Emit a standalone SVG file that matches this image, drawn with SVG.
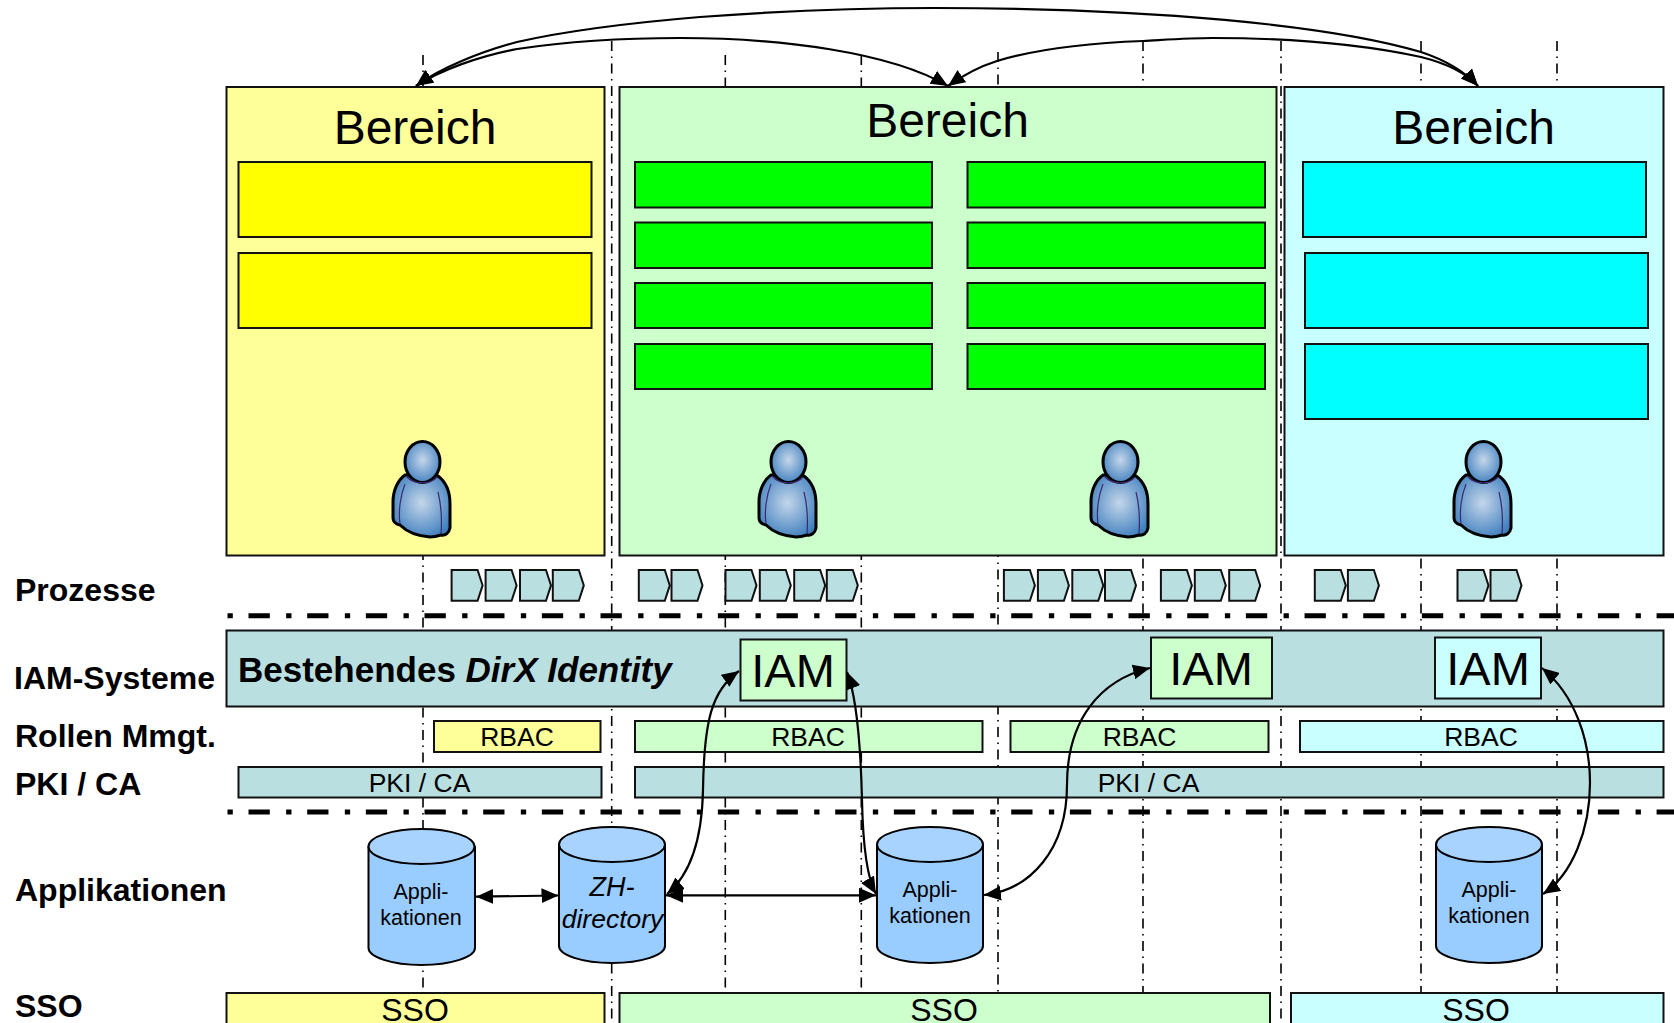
<svg xmlns="http://www.w3.org/2000/svg" width="1674" height="1023" viewBox="0 0 1674 1023">
<style>
text{font-family:"Liberation Sans",Arial,sans-serif;fill:#000}
.m{text-anchor:middle}
.lbl{font-size:32px;font-weight:bold}
.ber{font-size:48px}
.iam{font-size:47px}
.r{font-size:26.500px}
.sso{font-size:32px}
.app{font-size:21.500px}
.b{stroke:#111;stroke-width:2}
.y{fill:#FFFF99}.g{fill:#CCFFCC}.c{fill:#C9FFFF}.t{fill:#B9DFE1}
.yy{fill:#FFFF00}.gg{fill:#00FF00}.cc{fill:#00FFFF}
.v{fill:none;stroke:#000;stroke-width:1.6;stroke-dasharray:10 5.5 1.5 5.5}
.h{fill:none;stroke:#000;stroke-width:5;stroke-dasharray:5.300 15.700 21.300 16.370}
.cn{fill:none;stroke:#000;stroke-width:2.200;marker-start:url(#ah);marker-end:url(#ah)}
.lit{fill:#A9D3FF;stroke:#000;stroke-width:2}
.cyl{fill:#99CCFF;stroke:#000;stroke-width:2}
.sk{fill:none;stroke:#3A2A70;stroke-width:1.2}
</style>
<defs>
<marker id="ah" markerUnits="userSpaceOnUse" markerWidth="17" markerHeight="15" refX="16" refY="7" orient="auto-start-reverse" viewBox="0 0 16 14"><path d="M0,0L16,7L0,14Z" fill="#000"/></marker>
<radialGradient id="pg" cx="0.5" cy="0.45" r="0.6"><stop offset="0" stop-color="#C4D6EA"/><stop offset="1" stop-color="#3F7FBE"/></radialGradient>
<g id="person">
<path d="M-17,13C-24,18-29,28-29,40L-29,56C-29,60-26,62-22,63C-15,70-5,74,8,75C12,75,16,74,19,73C23,74,27,71,28,66L28,42C28,30,24,20,16,14Z" fill="url(#pg)" stroke="#000" stroke-width="3"/>
<path class="sk" d="M-17,22C-21,32-24,48-22,62M16,30C19,42,20,58,19,72"/>
<ellipse cx="0.500" cy="0" rx="17.500" ry="20.500" fill="url(#pg)" stroke="#000" stroke-width="3"/>
<path class="sk" d="M-16,14C-8,23,8,23,15,15"/>
</g>
<path id="chev" d="M0,0H26L31,15.400L26,30.700H0Z" class="t" stroke="#111" stroke-width="2"/>
</defs>
<rect width="1674" height="1023" fill="#fff"/>
<g id="grid-lines">
<path class="v" d="M423,55V1023"/>
<path class="v" d="M611.700,41V1023"/>
<path class="v" d="M725.300,55V1023"/>
<path class="v" d="M861.300,55V1023"/>
<path class="v" d="M998,52V1023"/>
<path class="v" d="M1143,41V1023"/>
<path class="v" d="M1281,41V1023"/>
<path class="v" d="M1421,41V1023"/>
<path class="v" d="M1557,41V1023"/>
</g>
<g id="bereich-gelb">
<rect class="y b" x="226.500" y="87" width="378" height="468.500"/>
<text class="ber m" x="415" y="144">Bereich</text>
<rect class="yy b" x="238.500" y="162" width="353" height="75"/>
<rect class="yy b" x="238.500" y="253" width="353" height="75"/>
<use href="#person" x="422" y="462"/>
</g>
<g id="bereich-gruen">
<rect class="g b" x="619.500" y="87" width="657" height="468.500"/>
<text class="ber m" x="947.500" y="137">Bereich</text>
<rect class="gg b" x="635" y="162" width="297" height="45.500"/>
<rect class="gg b" x="635" y="222.500" width="297" height="45.500"/>
<rect class="gg b" x="635" y="283" width="297" height="45"/>
<rect class="gg b" x="635" y="344" width="297" height="45"/>
<rect class="gg b" x="967.500" y="162" width="297.500" height="45.500"/>
<rect class="gg b" x="967.500" y="222.500" width="297.500" height="45.500"/>
<rect class="gg b" x="967.500" y="283" width="297.500" height="45"/>
<rect class="gg b" x="967.500" y="344" width="297.500" height="45"/>
<use href="#person" x="788" y="462"/>
<use href="#person" x="1120" y="462"/>
</g>
<g id="bereich-cyan">
<rect class="c b" x="1284.500" y="87" width="379" height="468.500"/>
<text class="ber m" x="1473.500" y="144">Bereich</text>
<rect class="cc b" x="1303" y="162" width="343" height="75"/>
<rect class="cc b" x="1305" y="253" width="343" height="75"/>
<rect class="cc b" x="1305" y="344" width="343" height="75"/>
<use href="#person" x="1483" y="462"/>
</g>
<g id="prozesse">
<text class="lbl" x="15" y="601">Prozesse</text>
<use href="#chev" x="451.600" y="570"/><use href="#chev" x="485.600" y="570"/><use href="#chev" x="520" y="570"/><use href="#chev" x="552.800" y="570"/>
<use href="#chev" x="638.800" y="570"/><use href="#chev" x="671.500" y="570"/>
<use href="#chev" x="725.500" y="570"/><use href="#chev" x="759.800" y="570"/><use href="#chev" x="794.200" y="570"/><use href="#chev" x="826.800" y="570"/>
<use href="#chev" x="1003.900" y="570"/><use href="#chev" x="1037.900" y="570"/><use href="#chev" x="1072.300" y="570"/><use href="#chev" x="1105" y="570"/>
<use href="#chev" x="1160.900" y="570"/><use href="#chev" x="1194.800" y="570"/><use href="#chev" x="1229.200" y="570"/>
<use href="#chev" x="1314.800" y="570"/><use href="#chev" x="1347.900" y="570"/>
<use href="#chev" x="1457.500" y="570"/><use href="#chev" x="1490.500" y="570"/>
</g>
<g id="trennlinien">
<path class="h" d="M227.500,615.700H1674"/>
<path class="h" d="M227.500,812H1674"/>
</g>
<g id="iam-systeme">
<text class="lbl" x="14" y="689">IAM-Systeme</text>
<rect class="t b" x="226.500" y="630.500" width="1437" height="76"/>
<text x="238" y="682" font-size="35" font-weight="bold">Bestehendes <tspan font-style="italic">DirX Identity</tspan></text>
</g>
<g id="iam-1"><rect class="g b" x="740.500" y="639.500" width="106" height="61"/><text class="iam m" x="793" y="687">IAM</text></g>
<g id="iam-2"><rect class="g b" x="1151" y="637.500" width="121" height="61"/><text class="iam m" x="1211" y="685">IAM</text></g>
<g id="iam-3"><rect class="c b" x="1435" y="637.500" width="106" height="61"/><text class="iam m" x="1488" y="685">IAM</text></g>
<g id="rollen">
<text class="lbl" x="15" y="747">Rollen Mmgt.</text>
<rect class="y b" x="434" y="721" width="166.500" height="31"/><text class="r m" x="517" y="746">RBAC</text>
<rect class="g b" x="635" y="721" width="347.500" height="31"/><text class="r m" x="808" y="746">RBAC</text>
<rect class="g b" x="1010.500" y="721" width="258" height="31"/><text class="r m" x="1139.500" y="746">RBAC</text>
<rect class="c b" x="1300" y="721" width="363.500" height="31"/><text class="r m" x="1481" y="746">RBAC</text>
</g>
<g id="pki">
<text class="lbl" x="15" y="795">PKI / CA</text>
<rect class="t b" x="238.500" y="767" width="363" height="30.500"/><text class="r m" x="419.500" y="791.500">PKI / CA</text>
<rect class="t b" x="635" y="767" width="1028.500" height="30.500"/><text class="r m" x="1148.500" y="791.500">PKI / CA</text>
</g>
<text id="applikationen" class="lbl" x="15" y="901">Applikationen</text>
<g id="cyl-1">
<path class="cyl" d="M368.500,847V948C368.500,957 392,965 421.500,965S475,957 475,948V847Z"/>
<ellipse class="lit" cx="421.500" cy="846.500" rx="53" ry="17.500"/>
<text class="app m" x="421" y="899">Appli-</text><text class="app m" x="421" y="925">kationen</text>
</g>
<g id="cyl-2">
<path class="cyl" d="M559,845V946C559,955 582,963 612,963S665,955 665,946V845Z"/>
<ellipse class="lit" cx="612" cy="844.500" rx="53" ry="17.500"/>
<text class="m" x="612" y="896" font-size="27" font-style="italic">ZH-</text><text class="m" x="612.500" y="928" font-size="26.500" font-style="italic">directory</text>
</g>
<g id="cyl-3">
<path class="cyl" d="M877,845V946C877,955 900,963 930,963S983,955 983,946V845Z"/>
<ellipse class="lit" cx="930" cy="844.500" rx="53" ry="17.500"/>
<text class="app m" x="930" y="897">Appli-</text><text class="app m" x="930" y="923">kationen</text>
</g>
<g id="cyl-4">
<path class="cyl" d="M1436,845V946C1436,955 1459,963 1489,963S1542,955 1542,946V845Z"/>
<ellipse class="lit" cx="1489" cy="844.500" rx="53" ry="17.500"/>
<text class="app m" x="1489" y="897">Appli-</text><text class="app m" x="1489" y="923">kationen</text>
</g>
<g id="sso">
<text class="lbl" x="15" y="1017">SSO</text>
<rect class="y b" x="226.500" y="993" width="378" height="40"/><text class="sso m" x="415" y="1021">SSO</text>
<rect class="g b" x="619.500" y="993" width="650.500" height="40"/><text class="sso m" x="944" y="1021">SSO</text>
<rect class="c b" x="1291" y="993" width="372.500" height="40"/><text class="sso m" x="1476" y="1021">SSO</text>
</g>
<g id="connectors">
<path class="cn" d="M416,86C440,68 480,52 517,42C570,30 640,22 700,17C780,11 860,8 935,8C1150,8 1330,25 1421,52C1445,60 1465,72 1478,86"/>
<path class="cn" d="M416,86C440,70 480,56 517,49C570,41 620,38 680,38C780,38 890,52 948,86"/>
<path class="cn" d="M948,86C962,76 978,67 997,61C1040,48 1090,43 1143,41C1170,39.500 1190,38 1212,38C1290,38 1365,45 1421,57C1445,63 1465,72 1478,86"/>
<path class="cn" d="M476,896.700L558.500,895.500"/>
<path class="cn" d="M666,895.300H876"/>
<path class="cn" d="M739,671C712,690 704,720 703,790C702,840 690,875 667,894"/>
<path class="cn" d="M847,672C858,700 861,760 862,800C863,850 868,880 876,894"/>
<path class="cn" d="M1150,668C1100,680 1067,720 1067,785C1067,850 1030,890 984,895"/>
<path class="cn" d="M1542,668C1575,695 1590,740 1590,783C1590,830 1572,875 1543,894"/>
</g>
</svg>
